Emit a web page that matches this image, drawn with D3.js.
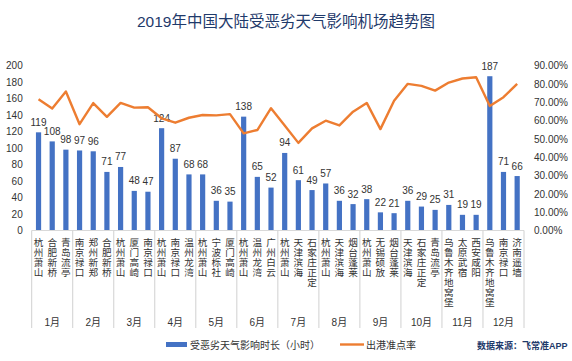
<!DOCTYPE html>
<html><head><meta charset="utf-8">
<script src="https://cdn.jsdelivr.net/npm/d3@7"></script>
<style>
body{margin:0;background:#fff;}
svg text{font-family:"Liberation Sans","Noto Sans CJK SC",sans-serif;}
</style></head>
<body><svg id="c" width="572" height="361"></svg>
<script>
const months = ["1月","2月","3月","4月","5月","6月","7月","8月","9月","10月","11月","12月"];
const airports = ["杭州萧山","合肥新桥","青岛流亭","南京禄口","郑州新郑","合肥新桥","杭州萧山","厦门高崎","南京禄口",
"杭州萧山","南京禄口","温州龙湾","杭州萧山","宁波栎社","厦门高崎","杭州萧山","温州龙湾","广州白云",
"杭州萧山","天津滨海","石家庄正定","杭州萧山","天津滨海","烟台蓬莱","杭州萧山","无锡硕放","烟台蓬莱",
"天津滨海","石家庄正定","青岛流亭","乌鲁木齐地窝堡","太原武宿","西安咸阳","乌鲁木齐地窝堡","南京禄口","济南遥墙"];
const hours = [119,108,98,97,96,71,77,48,47,124,87,68,68,36,35,138,65,52,94,61,49,57,36,32,38,22,21,36,29,25,31,19,19,187,71,66];
const onTime = [71.6,66.5,75.8,58.0,69.5,62.0,69.6,67.0,67.2,61.2,58.8,61.5,63.0,62.8,63.5,53.0,54.8,66.7,57.3,47.8,55.7,59.9,57.3,64.8,69.6,55.3,70.8,80.0,78.9,76.3,80.7,82.9,83.6,67.9,72.7,80.0];
const leftTicks = [0,20,40,60,80,100,120,140,160,180,200];
const rightTicks = [0,10,20,30,40,50,60,70,80,90];
const title = "2019年中国大陆受恶劣天气影响机场趋势图";
const seriesNames = ["受恶劣天气影响时长（小时）","出港准点率"];
const source = "数据来源：飞常准APP";

const svg = d3.select("#c");
const L = 31.7, R = 524, T = 65.5, B = 230.5;
const idx = d3.range(hours.length);
const x = d3.scaleBand().domain(idx).range([L, R]).paddingInner(0.62).paddingOuter(0.31);
const yL = d3.scaleLinear().domain([0,200]).range([B, T]);
const yR = d3.scaleLinear().domain([0,90]).range([B, T]);
const cx = i => x(i) + x.bandwidth()/2;

svg.append("text").attr("x",286).attr("y",27).attr("text-anchor","middle")
  .attr("font-size",15.5).attr("fill","#1f3a6b").text(title);

// left axis
const gl = svg.append("g").attr("transform",`translate(${L},0)`)
  .call(d3.axisLeft(yL).tickValues(leftTicks).tickSize(0).tickPadding(9));
gl.select(".domain").remove();
gl.selectAll("text").attr("font-size",10).attr("fill","#333").style("font-family","Liberation Sans");

// right axis
const gr = svg.append("g").attr("transform",`translate(${R},0)`)
  .call(d3.axisRight(yR).tickValues(rightTicks).tickSize(0).tickPadding(10).tickFormat(d=>d.toFixed(2)+"%"));
gr.select(".domain").remove();
gr.selectAll("text").attr("font-size",10).attr("fill","#333").style("font-family","Liberation Sans");

// bars
svg.append("g").selectAll("rect").data(hours).join("rect")
  .attr("x",(d,i)=>x(i)).attr("width",x.bandwidth())
  .attr("y",d=>yL(d)).attr("height",d=>B-yL(d)).attr("fill","#4472c4");

// bar labels
svg.append("g").selectAll("text").data(hours).join("text")
  .attr("x",(d,i)=>cx(i)).attr("y",d=>yL(d)-6.5).attr("text-anchor","middle")
  .attr("font-size",10).attr("fill","#333").text(d=>d);

// line
const line = d3.line().x((d,i)=>cx(i)).y(d=>yR(d));
svg.append("path").datum(onTime).attr("d",line).attr("fill","none")
  .attr("stroke","#ed7d31").attr("stroke-width",2.4).attr("stroke-linejoin","round");

// category axis
svg.append("line").attr("x1",L).attr("x2",R).attr("y1",B).attr("y2",B).attr("stroke","#d9d9d9");
const groupW = (R-L)/months.length;
svg.append("g").selectAll("line").data(d3.range(months.length+1)).join("line")
  .attr("x1",k=>L+k*groupW).attr("x2",k=>L+k*groupW).attr("y1",B).attr("y2",328)
  .attr("stroke","#d0d0d0").attr("stroke-width",1);
const cat = svg.append("g").selectAll("text").data(airports).join("text")
  .attr("text-anchor","middle").attr("font-size",9.6).attr("fill","#333")
  .style("font-family","Noto Sans CJK SC");
cat.each(function(d,i){
  const t = d3.select(this);
  Array.from(d).forEach((ch,j)=>{
    t.append("tspan").attr("x",cx(i)).attr("y",246+j*10).text(ch);
  });
});
svg.append("g").selectAll("text").data(months).join("text")
  .attr("x",(d,k)=>L+(k+0.5)*groupW).attr("y",325.5).attr("text-anchor","middle")
  .attr("font-size",10).attr("fill","#333").text(d=>d);

// legend
svg.append("rect").attr("x",166).attr("y",342).attr("width",21).attr("height",5).attr("fill","#4472c4");
svg.append("text").attr("x",190).attr("y",348.5).attr("font-size",10).attr("fill","#333").text(seriesNames[0]);
svg.append("line").attr("x1",340).attr("x2",364).attr("y1",344.5).attr("y2",344.5).attr("stroke","#ed7d31").attr("stroke-width",2.4);
svg.append("text").attr("x",366).attr("y",348.5).attr("font-size",10).attr("fill","#333").text(seriesNames[1]);
svg.append("text").attr("x",477).attr("y",348.5).attr("font-size",9).attr("font-weight","bold").attr("fill","#1f3a6b").text(source);
</script></body></html>
